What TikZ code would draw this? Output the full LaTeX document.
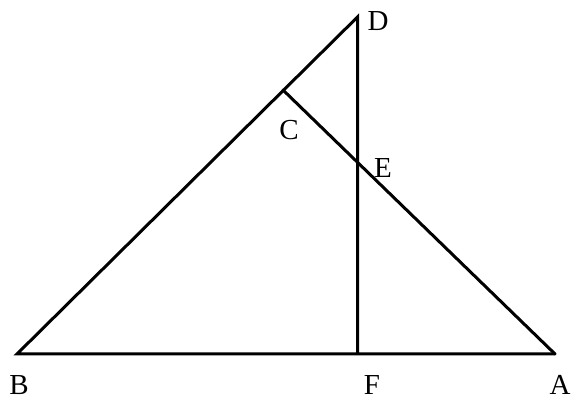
\documentclass[tikz,border=0pt]{standalone}
\usepackage{fontspec}
\setmainfont{Liberation Serif}
\begin{document}
\begin{tikzpicture}[x=1pt,y=1pt,
  seg/.style={line width=3pt, line cap=round, line join=miter},
  lbl/.style={font=\fontsize{29}{32}\selectfont, inner sep=0pt}]
\useasboundingbox (0,0) rectangle (571,401);
\coordinate (B) at (17,47);
\coordinate (A) at (555,47);
\coordinate (D) at (357.5,384);
\coordinate (C) at (283,311);
\coordinate (F) at (357.5,47);
\draw[seg] (A) -- (B) -- (D) -- (F);
\draw[seg] (C) -- (A);
\node[lbl] (lD) at (378,380) {D};
\node[lbl] (lC) at (289,271) {C};
\node[lbl] (lE) at (383,233) {E};
\node[lbl] (lB) at (19,16) {B};
\node[lbl] (lF) at (372,16) {F};
\node[lbl] (lA) at (560,16) {A};
\end{tikzpicture}
\end{document}
